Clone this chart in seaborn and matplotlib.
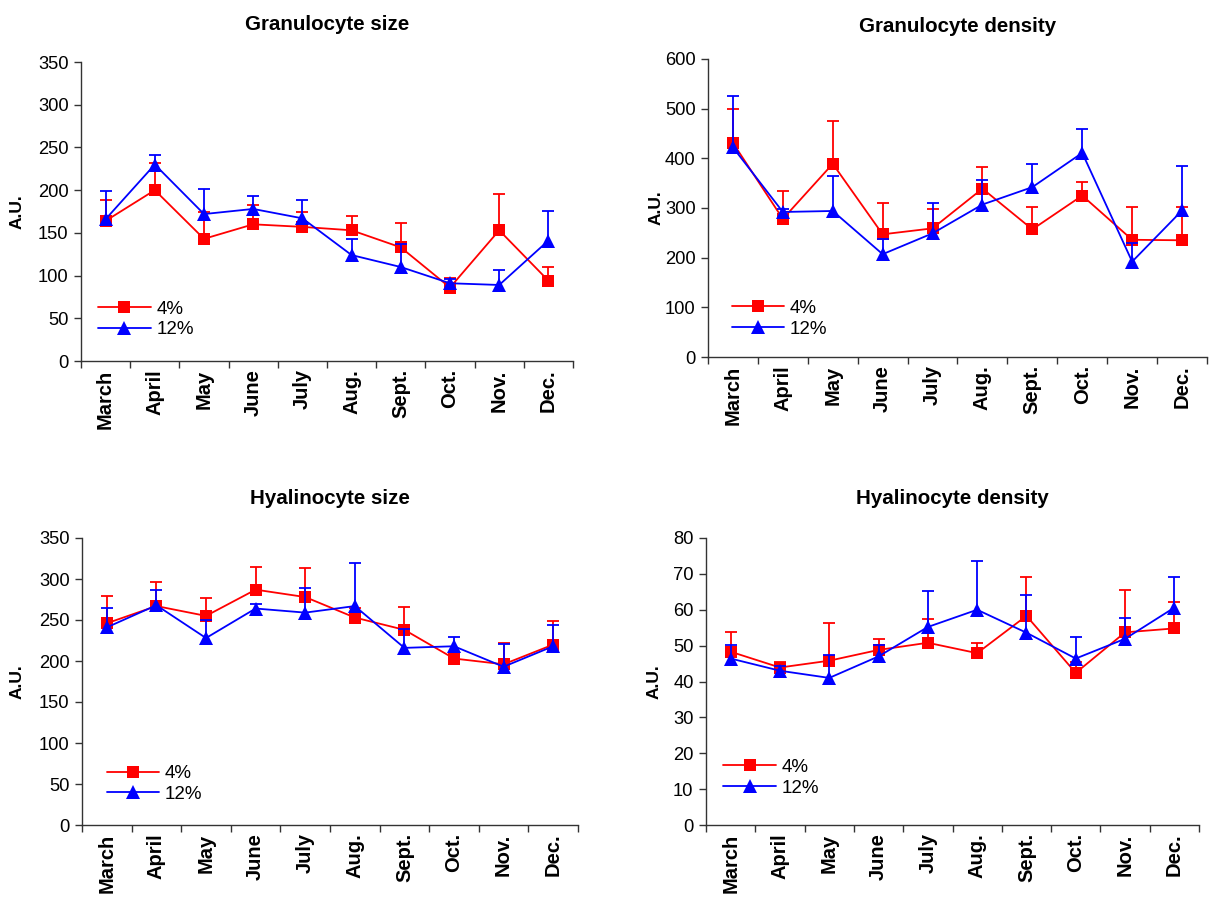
import numpy as np
import pandas as pd
import matplotlib
matplotlib.use("Agg")
import matplotlib.pyplot as plt
from matplotlib.lines import Line2D
import seaborn as sns

months = ["March", "April", "May", "June", "July", "Aug.", "Sept.", "Oct.", "Nov.", "Dec."]
groups = ["4%", "12%"]

# Granulocyte size
gsize_4 = [164, 200, 143, 160, 157, 153, 133, 86, 153, 94]
gsize_4_sd = [25, 32, 31, 23, 17, 17, 29, 11, 42, 16]
gsize_12 = [166, 230, 172, 178, 167, 124, 110, 91, 89, 141]
gsize_12_sd = [33, 11, 29, 15, 22, 19, 27, 5, 17, 35]

# Granulocyte density
gden_4 = [431, 278, 389, 247, 259, 339, 257, 325, 236, 235]
gden_4_sd = [68, 57, 86, 64, 39, 43, 46, 28, 67, 68]
gden_12 = [422, 292, 294, 207, 249, 307, 342, 411, 192, 295]
gden_12_sd = [103, 6, 70, 30, 61, 50, 47, 49, 37, 90]

# Hyalinocyte size
hsize_4 = [246, 267, 255, 287, 278, 253, 238, 203, 196, 220]
hsize_4_sd = [33, 29, 22, 28, 35, 12, 28, 5, 26, 29]
hsize_12 = [241, 268, 228, 264, 259, 267, 216, 218, 193, 218]
hsize_12_sd = [24, 19, 22, 6, 30, 53, 23, 11, 28, 26]

# Hyalinocyte density
hden_4 = [48.3, 43.9, 45.8, 48.8, 50.8, 47.9, 58.3, 42.4, 53.7, 54.8]
hden_4_sd = [5.4, 1.4, 10.4, 3.1, 6.5, 2.9, 10.7, 3.0, 11.9, 7.4]
hden_12 = [46.4, 43.0, 41.0, 47.0, 55.2, 60.0, 53.6, 46.4, 51.9, 60.6]
hden_12_sd = [3.9, 1.4, 6.3, 3.3, 10.0, 13.5, 10.5, 5.9, 5.8, 8.4]

titles = ["Granulocyte size", "Granulocyte density", "Hyalinocyte size", "Hyalinocyte density"]
y_limits = [(0, 350), (0, 600), (0, 350), (0, 80)]
y_steps = [50, 100, 50, 10]

panels = [
    (gsize_4, gsize_4_sd, gsize_12, gsize_12_sd),
    (gden_4, gden_4_sd, gden_12, gden_12_sd),
    (hsize_4, hsize_4_sd, hsize_12, hsize_12_sd),
    (hden_4, hden_4_sd, hden_12, hden_12_sd),
]

sns.set_theme(style="ticks")
plt.rcParams["font.family"] = ["Liberation Sans", "DejaVu Sans"]
plt.rcParams["text.color"] = "black"
plt.rcParams["axes.labelcolor"] = "black"
plt.rcParams["xtick.color"] = "black"
plt.rcParams["ytick.color"] = "black"

W, H = 1219, 897
# axes boxes in pixels: left, top, right, bottom
boxes = [(81, 62, 573, 361), (708, 59, 1207, 357), (82, 538, 578, 825), (706, 538, 1199, 825)]
title_gap = [38, 32, 40, 40]
legend_pos = [(0.035, 0.139), (0.048, 0.128), (0.05, 0.143), (0.035, 0.164)]
label_x = [-0.114, -0.09, -0.115, -0.09]

colors = {"4%": "#ff0000", "12%": "#0000ff"}
marks = {"4%": "s", "12%": "^"}
msize = {"4%": 8.5, "12%": 9.5}

fig = plt.figure(figsize=(W / 100, H / 100), dpi=100)

for i, (vals4, sd4, vals12, sd12) in enumerate(panels):
    l, t, r, b = boxes[i]
    ax = fig.add_axes([l / W, (H - b) / H, (r - l) / W, (b - t) / H])
    x = np.arange(len(months))
    df = pd.DataFrame({
        "pos": np.concatenate([x, x]),
        "value": np.concatenate([vals4, vals12]),
        "sd": np.concatenate([sd4, sd12]),
        "group": ["4%"] * len(months) + ["12%"] * len(months),
    })
    for g in groups:
        sub = df[df["group"] == g]
        eb = ax.errorbar(sub["pos"], sub["value"],
                         yerr=[np.zeros(len(sub)), sub["sd"].values],
                         fmt="none", ecolor=colors[g], elinewidth=1.3,
                         capsize=4.2, capthick=1.3, zorder=2 if g == "4%" else 4)
        for cap in eb[1]:
            if np.allclose(cap.get_ydata(), sub["value"].values):
                cap.set_visible(False)
        sns.lineplot(data=sub, x="pos", y="value", color=colors[g],
                     marker=marks[g], markersize=msize[g], markeredgewidth=0,
                     linewidth=1.3, ax=ax, legend=False,
                     zorder=3 if g == "4%" else 5)

    ax.set_xlim(-0.5, len(months) - 0.5)
    ax.set_ylim(*y_limits[i])
    ax.set_yticks(np.arange(y_limits[i][0], y_limits[i][1] + 1, y_steps[i]))
    ax.set_xticks(np.arange(-0.5, len(months), 1.0))
    ax.set_xticklabels([])
    ax.set_xticks(x, minor=True)
    ax.set_xticklabels(months, minor=True, rotation=90, fontweight="bold", fontsize=14.5)
    ax.tick_params(axis="x", which="major", length=5, width=1, color="#333333", direction="out")
    ax.tick_params(axis="x", which="minor", length=0, pad=6)
    ax.tick_params(axis="y", length=5, width=1, color="#333333", labelsize=13.2, pad=4, direction="out")
    ax.set_xlabel("")
    ax.set_ylabel("A.U.", fontweight="bold", fontsize=12.5)
    ax.yaxis.set_label_coords(label_x[i], 0.5)
    sns.despine(ax=ax)
    for s in ["left", "bottom"]:
        ax.spines[s].set_color("#333333")
        ax.spines[s].set_linewidth(1.0)

    fig.text((l + r) / 2 / W, 1 - (t - title_gap[i]) / H, titles[i],
             ha="center", va="center", fontweight="bold", fontsize=14.8)

    handles = [Line2D([], [], color=colors[g], marker=marks[g], markersize=msize[g],
                      markeredgewidth=0, linewidth=1.3) for g in groups]
    ax.legend(handles, groups, loc="center left", bbox_to_anchor=legend_pos[i],
              frameon=False, fontsize=13.5, handlelength=2.8, handletextpad=0.3,
              labelspacing=0.2, borderpad=0, borderaxespad=0)

fig.savefig("out.png", dpi=100)
